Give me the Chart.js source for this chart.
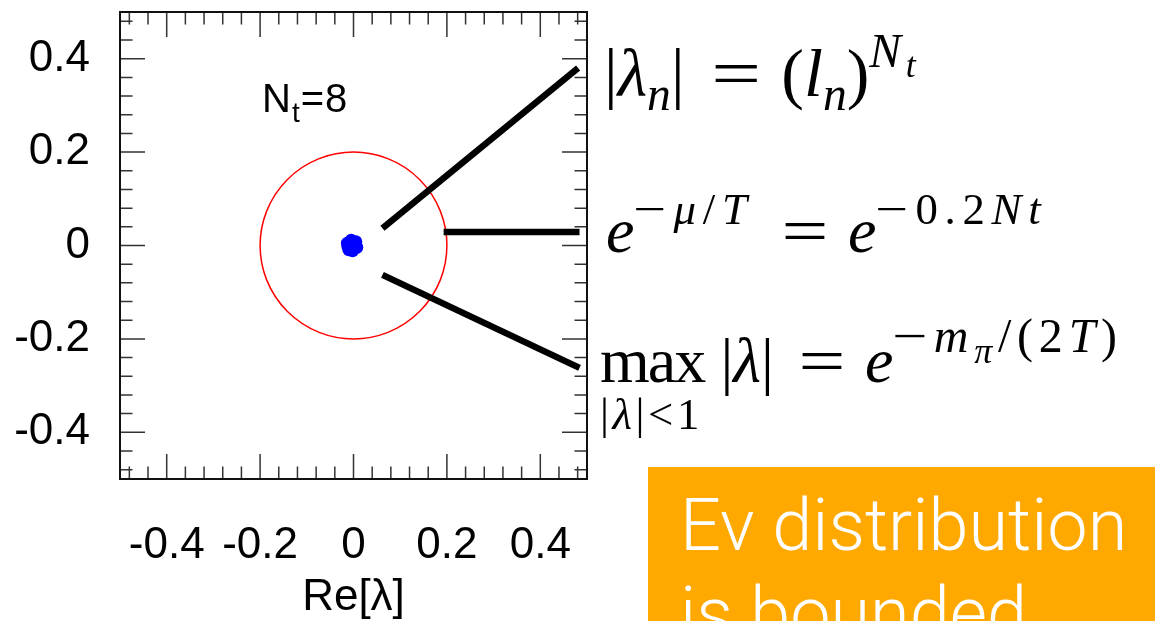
<!DOCTYPE html>
<html lang="en">
<head>
<meta charset="UTF-8">
<title>Eigenvalue spectrum, N_t = 8</title>
<script src="https://cdn.jsdelivr.net/npm/chart.js"></script>
<style>
  html, body { margin: 0; padding: 0; background: #fff; overflow: hidden; }
  #wrap { position: relative; width: 1161px; height: 621px; overflow: hidden; }
  #spectrum { position: absolute; left: 0; top: 0; }
  .note { position: absolute; white-space: nowrap; line-height: 1; color: #000; }
  .sans { font-family: "Liberation Sans", Arial, sans-serif; }
  .tex { font-family: "Liberation Serif", "DejaVu Serif", serif; }
  .tex i { font-style: italic; }
  .sb { font-size: 0.7em; position: relative; top: 0.3em; }
  .sp { font-size: 0.7em; position: relative; top: -0.62em; letter-spacing: 0.1em; }
  .sp .sb { font-size: 0.75em; top: 0.3em; }
  .w { display: inline-block; transform: scaleX(1.3); margin: 0 0.08em; }
  .rel { margin: 0 0.3em 0 0.4em; }
  .lim { position: relative; display: inline-block; letter-spacing: -0.03em; }
  .under { position: absolute; left: 0; top: 63px; font-size: 0.7em; letter-spacing: 0.08em; }
  #box { position: absolute; left: 648px; top: 467px; width: 507px; height: 200px; background: #ffa800; }
  #box div { position: absolute; left: 32px; color: #fff; font-family: Roboto, "Open Sans", sans-serif; font-weight: 300; font-size: 72px; line-height: 1; white-space: nowrap; }
</style>
</head>
<body>
<div id="wrap">
  <canvas id="spectrum" width="1161" height="621"></canvas>

  <div class="note sans" style="left:262px; top:78px; font-size:40px; letter-spacing:1px;">N<span style="font-size:0.7em; position:relative; top:0.35em;">t</span>=8</div>

  <div class="note tex" style="left:604px; top:39px; font-size:68px;">|<i>λ</i><span class="sb"><i>n</i></span>|<span class="rel"><span class="w">=</span></span>(<i>l</i><span class="sb"><i>n</i></span>)<span class="sp"><i>N</i><span class="sb"><i>t</i></span></span></div>

  <div class="note tex" style="left:606px; top:199px; font-size:64px;"><i>e</i><span class="sp" style="letter-spacing:0.15em;"><span class="w">−</span><i>μ</i>/<i>T</i></span><span class="rel" style="margin-left:0.45em;"><span class="w">=</span></span><i>e</i><span class="sp" style="letter-spacing:0.15em;"><span class="w">−</span>0.2<i>Nt</i></span></div>

  <div class="note tex" style="left:600px; top:329px; font-size:64px;"><span class="lim">max<span class="under">|<i>λ</i>|&lt;1</span></span><span style="margin-left:0.25em;">|<i>λ</i>|</span><span class="rel"><span class="w">=</span></span><i>e</i><span class="sp" style="font-size:0.75em; letter-spacing:0.12em;"><span class="w">−</span><i>m</i><span class="sb"><i>π</i></span>/(2<i>T</i>)</span></div>

  <div id="box">
    <div style="top:23px;">Ev distribution</div>
    <div style="top:111px;">is bounded</div>
  </div>
</div>

<script>
// axis ticks
const xTickValues = [-0.4, -0.2, 0, 0.2, 0.4];
const xTickLabels = ['-0.4', '-0.2', '0', '0.2', '0.4'];
const yTickValues = [-0.4, -0.2, 0, 0.2, 0.4];
const yTickLabels = ['-0.4', '-0.2', '0', '0.2', '0.4'];
const minorStep = 0.04;

// eigenvalues (Re, Im), all packed near the origin
const eigenRe = [-0.013, -0.010, -0.002, 0.007, 0.005, -0.005, -0.012, 0.000, 0.003, -0.007];
const eigenIm = [0.005, -0.009, -0.011, -0.004, 0.008, 0.011, -0.002, 0.000, 0.002, -0.004];

// bound radius drawn as the red circle
const boundRadius = 0.2;

// pointer lines towards the formulas: [start, end]
const pointerRe = [[0.062, 0.481], [0.193, 0.484], [0.062, 0.484]];
const pointerIm = [[0.037, 0.380], [0.029, 0.029], [-0.063, -0.262]];

const tickFont = { family: 'Liberation Sans', size: 44, lineHeight: 1.2 };

function fixedTicks(values) {
    return scale => { scale.ticks = values.map(v => ({ value: v })); };
}

// red circle |lambda| = boundRadius
const circlePlugin = {
    id: 'boundCircle',
    beforeDatasetsDraw(chart) {
        const { ctx, scales: { x, y } } = chart;
        const cx = x.getPixelForValue(0), cy = y.getPixelForValue(0);
        const r = x.getPixelForValue(boundRadius) - cx;
        ctx.save();
        ctx.strokeStyle = '#ff0000';
        ctx.lineWidth = 1.5;
        ctx.beginPath();
        ctx.arc(cx, cy, r, 0, Math.PI * 2);
        ctx.stroke();
        ctx.restore();
    }
};

// box frame with inward major/minor ticks on all four sides
const framePlugin = {
    id: 'frameTicks',
    afterDraw(chart) {
        const { ctx, chartArea: a, scales: { x, y } } = chart;
        const major = 25, minor = 12.5;
        ctx.save();
        ctx.strokeStyle = '#333';
        ctx.lineWidth = 1.5;
        ctx.beginPath();
        for (let v = -0.48; v < 0.5; v += minorStep) {
            const val = Math.round(v * 100) / 100;
            const xlen = xTickValues.some(t => Math.abs(t - val) < 1e-6) ? major : minor;
            const px = x.getPixelForValue(val);
            ctx.moveTo(px, a.bottom); ctx.lineTo(px, a.bottom - xlen);
            ctx.moveTo(px, a.top); ctx.lineTo(px, a.top + xlen);
            const ylen = yTickValues.some(t => Math.abs(t - val) < 1e-6) ? major : minor;
            const py = y.getPixelForValue(val);
            ctx.moveTo(a.left, py); ctx.lineTo(a.left + ylen, py);
            ctx.moveTo(a.right, py); ctx.lineTo(a.right - ylen, py);
        }
        ctx.stroke();
        ctx.strokeStyle = '#111';
        ctx.lineWidth = 2;
        ctx.strokeRect(a.left, a.top, a.right - a.left, a.bottom - a.top);
        ctx.restore();
    }
};

const datasets = [{
    label: 'eigenvalues',
    data: eigenRe.map((re, i) => ({ x: re, y: eigenIm[i] })),
    backgroundColor: '#0000ff',
    borderWidth: 0,
    pointRadius: 6.5
}];
pointerRe.forEach((re, i) => {
    datasets.push({
        label: 'pointer ' + (i + 1),
        data: re.map((r, j) => ({ x: r, y: pointerIm[i][j] })),
        showLine: true,
        borderColor: '#000',
        borderWidth: 6.5,
        borderCapStyle: 'butt',
        pointRadius: 0
    });
});

new Chart(document.getElementById('spectrum'), {
    type: 'scatter',
    data: { datasets },
    options: {
        responsive: false,
        animation: false,
        devicePixelRatio: 1,
        events: [],
        layout: { padding: { left: 0, top: 12, right: 574, bottom: 0 } },
        plugins: { legend: { display: false }, tooltip: { enabled: false } },
        scales: {
            x: {
                type: 'linear', position: 'bottom', min: -0.5, max: 0.5,
                afterBuildTicks: fixedTicks(xTickValues),
                afterFit: s => { s.height = 142; s.paddingLeft = 0; s.paddingRight = 0; },
                ticks: {
                    callback: (v, i) => xTickLabels[i],
                    font: tickFont, color: '#000', padding: 40,
                    maxRotation: 0, autoSkip: false
                },
                grid: { display: false, drawTicks: false },
                border: { display: false },
                title: {
                    display: true, text: 'Re[λ]', color: '#000',
                    font: { family: 'Liberation Sans', size: 44, lineHeight: 1 },
                    padding: { top: 0, bottom: 1 }
                }
            },
            y: {
                type: 'linear', position: 'left', min: -0.5, max: 0.5,
                afterBuildTicks: fixedTicks(yTickValues),
                afterFit: s => { s.width = 120; s.paddingTop = 0; s.paddingBottom = 0; },
                ticks: {
                    callback: (v, i) => yTickLabels[i],
                    font: tickFont, color: '#000', padding: 30,
                    autoSkip: false
                },
                grid: { display: false, drawTicks: false },
                border: { display: false }
            }
        }
    },
    plugins: [circlePlugin, framePlugin]
});
</script>
</body>
</html>
